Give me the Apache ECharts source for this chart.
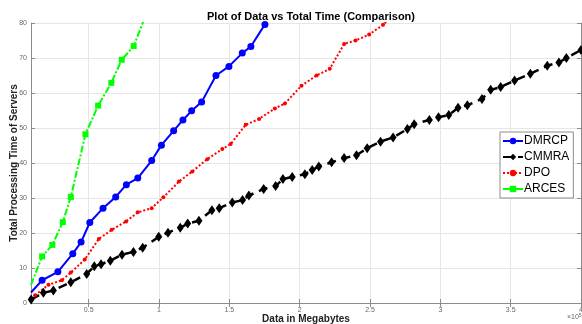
<!DOCTYPE html>
<html>
<head>
<meta charset="utf-8">
<script src="https://cdn.jsdelivr.net/npm/echarts@6/dist/echarts.min.js"></script>
<style>
  html, body { margin: 0; padding: 0; background: #fff; }
  #chart { width: 582px; height: 324px; }
</style>
</head>
<body>
<div id="chart"></div>
<script>
// --- data (x in units of 1e5 MB) ---
const xTicks = [0.5, 1, 1.5, 2, 2.5, 3, 3.5, 4];

const dmrcpX = [0.09, 0.169, 0.281, 0.387, 0.446, 0.508, 0.602, 0.692, 0.768, 0.849, 0.948, 1.017, 1.104, 1.170, 1.232, 1.303, 1.405, 1.497, 1.592, 1.653, 1.753];
const dmrcpY = [3.0, 6.5, 8.9, 14.1, 17.4, 23.0, 27.1, 30.3, 33.8, 35.7, 40.7, 45.1, 49.2, 52.3, 54.9, 57.4, 65.0, 67.6, 71.4, 73.3, 79.6];

const cmmraX = [0.091, 0.178, 0.249, 0.373, 0.486, 0.540, 0.588, 0.654, 0.737, 0.818, 0.884, 0.998, 1.064, 1.151, 1.204, 1.284, 1.376, 1.428, 1.521, 1.594, 1.639, 1.744, 1.829, 1.881, 1.947, 2.037, 2.089, 2.136, 2.227, 2.316, 2.404, 2.480, 2.575, 2.664, 2.766, 2.814, 2.922, 2.987, 3.060, 3.126, 3.192, 3.296, 3.358, 3.429, 3.528, 3.640, 3.760, 3.843, 3.896, 4.0];
const cmmraY = [1.0, 2.9, 3.6, 5.9, 8.3, 10.5, 11.1, 12.1, 13.8, 14.6, 15.8, 18.9, 20.1, 21.5, 22.7, 23.5, 26.5, 27.1, 28.7, 29.4, 30.7, 32.6, 33.4, 35.4, 36.0, 36.8, 38.0, 39.0, 40.2, 41.4, 42.2, 44.2, 46.1, 47.3, 49.7, 51.1, 52.3, 53.1, 53.7, 55.8, 56.5, 58.3, 60.9, 61.7, 63.6, 65.5, 67.8, 68.7, 70.0, 72.3];

const dpoX = [0.119, 0.214, 0.309, 0.373, 0.472, 0.572, 0.664, 0.766, 0.849, 0.948, 1.031, 1.142, 1.237, 1.343, 1.450, 1.509, 1.616, 1.712, 1.824, 1.895, 2.013, 2.120, 2.214, 2.316, 2.397, 2.494, 2.593, 2.66];
const dpoY = [2.2, 5.2, 6.5, 8.7, 12.4, 18.3, 20.9, 23.3, 25.9, 27.1, 30.2, 34.7, 37.6, 41.1, 44.0, 45.4, 50.9, 52.6, 55.6, 57.0, 62.1, 65.0, 66.9, 74.0, 75.0, 76.7, 79.5, 82.0];

const arcesX = [0.09, 0.169, 0.242, 0.316, 0.373, 0.477, 0.567, 0.661, 0.735, 0.820, 0.92];
const arcesY = [5.2, 13.3, 16.6, 23.1, 30.3, 48.2, 56.4, 62.9, 69.5, 73.4, 83.7];

// first point of some series sits on the axis edge without a marker
const pairs = (xs, ys, noFirstMarker) => xs.map((x, i) => {
  const p = { value: [x, ys[i]] };
  if (noFirstMarker && i === 0) p.symbol = 'none';
  return p;
});

const chart = echarts.init(document.getElementById('chart'));
const FONT = 'Liberation Sans, Arial, Helvetica, sans-serif';
const AXIS_GRAY = '#8c8c8c';

const baseX = {
  type: 'value',
  min: 0.09,
  max: 4,
  axisLine: { lineStyle: { color: AXIS_GRAY } },
  axisTick: { inside: true, length: 4, customValues: xTicks, lineStyle: { color: AXIS_GRAY } },
  splitLine: { show: true, lineStyle: { color: '#e6e6e6' } },
};
const baseY = {
  type: 'value',
  min: 0,
  max: 80,
  interval: 10,
  axisLine: { show: true, lineStyle: { color: AXIS_GRAY } },
  axisTick: { show: true, inside: true, length: 4, lineStyle: { color: AXIS_GRAY } },
};

const option = {
  animation: false,
  title: {
    text: 'Plot of Data vs Total Time (Comparison)',
    left: 306,
    top: 6,
    textAlign: 'center',
    textStyle: { fontFamily: FONT, fontSize: 11, fontWeight: 'bold', color: '#000' }
  },
  grid: { left: 31, right: 1, top: 23, bottom: 21, containLabel: false, outerBoundsMode: 'none' },
  legend: {
    orient: 'vertical',
    left: 500,
    top: 132,
    itemWidth: 20,
    itemHeight: 8,
    itemGap: 4,
    padding: [3, 4, 3, 2],
    backgroundColor: '#fff',
    borderColor: '#8c8c8c',
    borderWidth: 1,
    borderRadius: 0,
    textStyle: { fontFamily: FONT, fontSize: 12, color: '#000', padding: [0, 0, 0, -4] },
    data: ['DMRCP', 'CMMRA', 'DPO', 'ARCES']
  },
  xAxis: [
    Object.assign({}, baseX, {
      position: 'bottom',
      name: 'Data in Megabytes',
      nameLocation: 'middle',
      nameGap: 11,
      nameMoveOverlap: false,
      nameTextStyle: { fontFamily: FONT, fontSize: 10, fontWeight: 'bold', color: '#222' },
      axisLabel: { customValues: xTicks, fontFamily: FONT, fontSize: 7, color: '#666', margin: 4 }
    }),
    Object.assign({}, baseX, {
      position: 'top',
      axisLabel: { show: false },
      splitLine: { show: false }
    })
  ],
  yAxis: [
    Object.assign({}, baseY, {
      position: 'left',
      name: 'Total Processing Time of Servers',
      nameLocation: 'middle',
      nameGap: 12,
      nameMoveOverlap: false,
      nameTextStyle: { fontFamily: FONT, fontSize: 10, fontWeight: 'bold', color: '#222' },
      axisLabel: { fontFamily: FONT, fontSize: 7, color: '#666', margin: 4 },
      splitLine: { show: true, lineStyle: { color: '#e6e6e6' } }
    }),
    Object.assign({}, baseY, {
      position: 'right',
      axisLabel: { show: false },
      splitLine: { show: false }
    })
  ],
  graphic: [{
    type: 'text',
    left: 567,
    top: 313,
    style: {
      text: '×10{s|5}',
      fontFamily: FONT,
      fontSize: 7,
      fill: '#666',
      rich: { s: { fontSize: 5, verticalAlign: 'top', fill: '#666', padding: [0, 0, 4, 0] } }
    }
  }],
  series: [
    {
      name: 'DMRCP',
      type: 'line',
      data: pairs(dmrcpX, dmrcpY, true),
      symbol: 'circle',
      symbolSize: 7,
      showAllSymbol: true,
      lineStyle: { color: '#0000ff', width: 2 },
      itemStyle: { color: '#0000ff' },
      clip: true
    },
    {
      name: 'CMMRA',
      type: 'line',
      data: pairs(cmmraX, cmmraY, false),
      symbol: 'diamond',
      symbolSize: [7, 10],
      showAllSymbol: true,
      lineStyle: { color: '#000', width: 2.5, type: [9, 6] },
      itemStyle: { color: '#000' },
      clip: true
    },
    {
      name: 'DPO',
      type: 'line',
      data: pairs(dpoX, dpoY, false),
      symbol: 'circle',
      symbolSize: 4,
      showAllSymbol: true,
      lineStyle: { color: '#ff0000', width: 2, type: [2, 2] },
      itemStyle: { color: '#ff0000' },
      clip: true
    },
    {
      name: 'ARCES',
      type: 'line',
      data: pairs(arcesX, arcesY, true),
      symbol: 'rect',
      symbolSize: 6,
      showAllSymbol: true,
      lineStyle: { color: '#00ff00', width: 2, type: [7, 2, 2, 2] },
      itemStyle: { color: '#00ff00' },
      clip: true
    }
  ]
};

chart.setOption(option);
window.addEventListener('resize', () => chart.resize());
</script>
</body>
</html>
